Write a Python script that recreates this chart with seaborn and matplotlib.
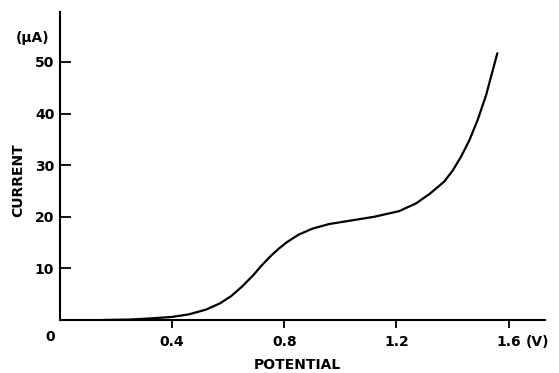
import pandas as pd
import seaborn as sns
import matplotlib.pyplot as plt

# values
potential = [0.15, 0.25, 0.32, 0.40, 0.46, 0.52, 0.57, 0.61, 0.65, 0.69, 0.72, 0.75, 0.78, 0.81,
             0.85, 0.90, 0.96, 1.04, 1.12, 1.21, 1.27, 1.32, 1.37, 1.40, 1.43, 1.46, 1.49, 1.52, 1.56]
current = [0.0, 0.1, 0.3, 0.6, 1.1, 2.0, 3.2, 4.6, 6.5, 8.7, 10.6, 12.3, 13.8, 15.1,
           16.5, 17.7, 18.6, 19.3, 20.0, 21.1, 22.6, 24.5, 26.8, 28.9, 31.6, 34.8, 38.8, 43.6, 51.7]
xticks = [0.4, 0.8, 1.2, 1.6]
yticks = [10, 20, 30, 40, 50]

df = pd.DataFrame({"potential": potential, "current": current})

sns.set_style("ticks")
plt.rcParams["font.family"] = ["DejaVu Sans"]
plt.rcParams["text.color"] = "black"
plt.rcParams["axes.labelcolor"] = "black"

fig = plt.figure(figsize=(5.59, 3.73), dpi=100)
ax = fig.add_axes([0.107, 0.142, 0.868, 0.826])

sns.lineplot(data=df, x="potential", y="current", color="black", linewidth=1.6, ax=ax)

ax.set_xlim(0, 1.73)
ax.set_ylim(0, 59.7)
sns.despine(ax=ax)
for s in ("left", "bottom"):
    ax.spines[s].set_linewidth(1.5)
    ax.spines[s].set_color("black")

fs = 10
ax.set_xticks(xticks)
ax.set_xticklabels([str(t) for t in xticks], fontsize=fs, fontweight="bold")
ax.set_yticks(yticks)
ax.set_yticklabels([str(t) for t in yticks], fontsize=fs, fontweight="bold")
ax.tick_params(axis="x", direction="out", length=6, width=1.3, pad=5, colors="black")
ax.tick_params(axis="y", direction="in", length=8, width=1.3, pad=4, colors="black")

ax.set_xlabel("POTENTIAL", fontsize=fs, fontweight="bold", color="black")
ax.xaxis.set_label_coords(0.49, -0.146)
ax.xaxis.label.set_va("center")
ax.set_ylabel("CURRENT", fontsize=fs, fontweight="bold", color="black")
ax.yaxis.set_label_coords(-0.085, 0.455)
ax.yaxis.label.set_va("center")

ax.text(-0.02, -0.055, "0", transform=ax.transAxes, ha="center", va="center",
        fontsize=fs, fontweight="bold", color="black")
ax.text(-0.056, 0.915, "(\u03bcA)", transform=ax.transAxes, ha="center", va="center",
        fontsize=fs, fontweight="bold", color="black")
ax.text(0.984, -0.071, "(V)", transform=ax.transAxes, ha="center", va="center",
        fontsize=fs, fontweight="bold", color="black")

fig.savefig("out.png", dpi=100)
